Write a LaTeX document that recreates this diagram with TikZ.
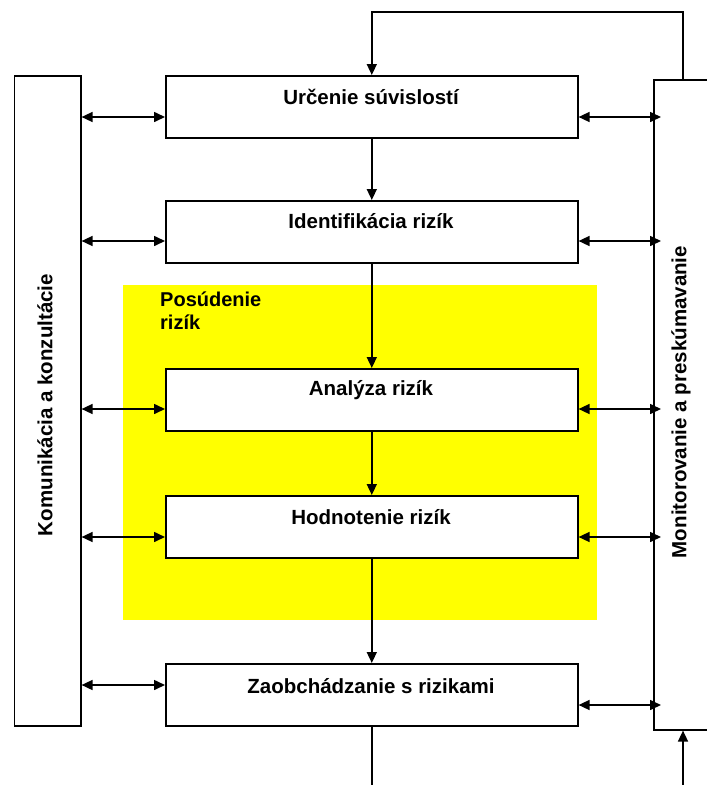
\documentclass[tikz,border=0pt]{standalone}
\usepackage{fontspec}
\setmainfont{Liberation Sans}
\usetikzlibrary{arrows.meta}
\definecolor{stagefill}{RGB}{255,255,0}
\begin{document}
\begin{tikzpicture}[x=1pt,y=-1pt,
  stepbox/.style={draw=black, line width=1.6pt, fill=white, rectangle, inner sep=0pt, anchor=north west},
  steptext/.style={font=\bfseries\fontsize{20.5}{23}\selectfont, anchor=center, inner sep=0pt},
  sidetext/.style={font=\bfseries\fontsize{20.5}{23}\selectfont, rotate=90, anchor=center, inner sep=0pt},
  conn/.style={line width=1.6pt},
  arr/.style={conn, -{Triangle[length=11pt,width=10pt]}},
  dbl/.style={conn, {Triangle[length=11pt,width=10pt]}-{Triangle[length=11pt,width=10pt]}}]
\useasboundingbox (0,0) rectangle (707,785);
\clip (0,0) rectangle (707,785);

% shaded area of the assessment stage
\fill[stagefill] (123,285) rectangle (597,620);
\node[font=\bfseries\fontsize{20}{23}\selectfont, anchor=north west, align=left, inner sep=0pt] (assess) at (160,292) {Posúdenie\\rizík};

% side columns
\node[stepbox, minimum width=66.5pt, minimum height=650pt] (kom) at (13.5,75) {};
\node[sidetext] (komtxt) at (45,405) {Komunikácia a konzultácie};
\node[stepbox, minimum width=90pt, minimum height=650pt] (mon) at (653,79) {};
\node[sidetext] (montxt) at (681,402) {Monitorovanie a preskúmavanie};

% process steps
\node[stepbox, minimum width=412pt, minimum height=62pt] (b1) at (165,75) {};
\node[stepbox, minimum width=412pt, minimum height=62pt] (b2) at (165,200) {};
\node[stepbox, minimum width=412pt, minimum height=62pt] (b3) at (165,368) {};
\node[stepbox, minimum width=412pt, minimum height=62pt] (b4) at (165,495) {};
\node[stepbox, minimum width=412pt, minimum height=62pt] (b5) at (165,663) {};
\node[steptext] (t1) at (371,97) {Určenie súvislostí};
\node[steptext] (t2) at (371,221) {Identifikácia rizík};
\node[steptext] (t3) at (371,390) {Analýza rizík};
\node[steptext] (t4) at (371,517) {Hodnotenie rizík};
\node[steptext] (t5) at (371,686) {Zaobchádzanie s rizikami};

% flow between steps
\draw[arr] (b1.south) -- (b2.north);
\draw[arr] (b2.south) -- (b3.north);
\draw[arr] (b3.south) -- (b4.north);
\draw[arr] (b4.south) -- (b5.north);
\coordinate (bottomL) at (371,785);
\draw[conn] (b5.south) -- (b5.south |- bottomL);

% feedback loop from monitoring back to the first step
\coordinate (loopR) at (683,12);
\draw[arr] (mon.north -| loopR) -- (loopR) -- (loopR -| b1.north) -- (b1.north);
\coordinate (bottomR) at (683,785);
\draw[arr] (bottomR) -- (mon.south -| bottomR);

% communication links
\foreach \b/\y in {b1/117, b2/241, b3/409, b4/537, b5/685}{
  \draw[dbl] (kom.east |- 0,\y) -- (\b.west |- 0,\y);
}
% monitoring links
\foreach \b/\y in {b1/117, b2/241, b3/409, b4/537, b5/705}{
  \draw[dbl, shorten >=-8pt] (\b.east |- 0,\y) -- (mon.west |- 0,\y);
}
\end{tikzpicture}
\end{document}
